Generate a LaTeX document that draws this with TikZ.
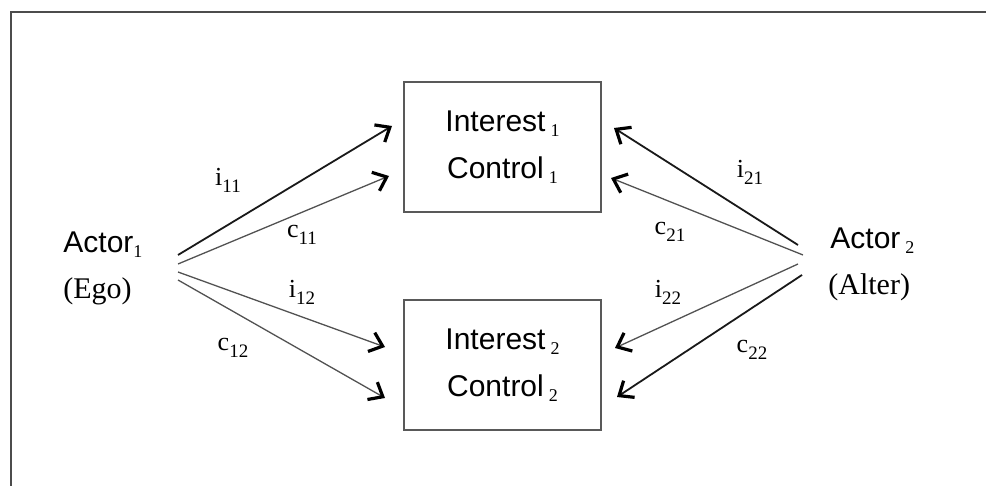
\documentclass[tikz,border=0pt]{standalone}
\usepackage{fontspec}
\setmainfont{Liberation Serif}
\setsansfont{Liberation Sans}
\usetikzlibrary{arrows.meta}

% lowered index, for the big and the small texts
\newcommand\idx[1]{\raisebox{-2.5pt}{\fontsize{9}{9}\selectfont\rmfamily #1}}
\newcommand\lbl[2]{#1\raisebox{-3.5pt}{\fontsize{9.5}{9.5}\selectfont #2}}

\tikzset{
  frame/.style={draw=black!70, line width=1pt},
  box/.style={draw=black!65, line width=0.8pt, minimum width=98.5pt, minimum height=65pt,
    align=center, font=\sffamily\fontsize{15}{23.5}\selectfont},
  actor/.style={anchor=base west, inner sep=0pt, font=\sffamily\fontsize{15}{18}\selectfont},
  role/.style={anchor=base west, inner sep=0pt, font=\rmfamily\fontsize{15}{18}\selectfont},
  lab/.style={inner sep=0pt, font=\rmfamily\fontsize{13}{15}\selectfont},
  arr/.style={-{Straight Barb[length=6pt, width=10pt, line width=1.6pt, color=black]}},
  heavy/.style={arr, line width=0.9pt, draw=black!90},
  light/.style={arr, line width=0.65pt, draw=black!68}
}

\begin{document}
\begin{tikzpicture}[x=0.5pt, y=-0.5pt]
    \useasboundingbox (0,0) rectangle (986,486);
    \draw[frame] (986,12) -- (11,12) -- (11,486);

      % the two boxes
      \node[box] (b1) at (502.5,147) {Interest\,\idx{1}\\Control\,\idx{1}};
      \node[box] (b2) at (502.5,365) {Interest\,\idx{2}\\Control\,\idx{2}};

      % the actors
      \node[actor] (a1) at (63,253) {Actor\idx{1}};
      \node[role] (ego) at (63,299) {(Ego)};
      \node[actor] (a2) at (830,249) {Actor\,\idx{2}};
      \node[role] (alter) at (828,295) {(Alter)};

      % ends of the arrows
      \coordinate (s11) at (178,255);
      \coordinate (s12) at (178,264);
      \coordinate (s13) at (178,272);
      \coordinate (s14) at (178,280);
      \coordinate (s21) at (798,245);
      \coordinate (s22) at (803,255);
      \coordinate (s23) at (798,264);
      \coordinate (s24) at (802,275);

      \coordinate (t11) at (392,126);
      \coordinate (t12) at (389,176);
      \coordinate (t13) at (385,347);
      \coordinate (t14) at (385,398);
      \coordinate (t21) at (614,128);
      \coordinate (t22) at (611,178);
      \coordinate (t23) at (615,348);
      \coordinate (t24) at (617,397);

      \draw[heavy] (s11) -- (t11);
      \draw[light] (s12) -- (t12);
      \draw[light] (s13) -- (t13);
      \draw[light] (s14) -- (t14);
      \draw[heavy] (s21) -- (t21);
      \draw[light] (s22) -- (t22);
      \draw[light] (s23) -- (t23);
      \draw[heavy] (s24) -- (t24);

      % labels
      \node[lab] (li11) at (228,180) {\lbl{i}{11}};
      \node[lab] (lc11) at (302,235) {\lbl{c}{11}};
      \node[lab] (li12) at (302,292) {\lbl{i}{12}};
      \node[lab] (lc12) at (233,348) {\lbl{c}{12}};
      \node[lab] (li21) at (750,172) {\lbl{i}{21}};
      \node[lab] (lc21) at (670,232) {\lbl{c}{21}};
      \node[lab] (li22) at (668,292) {\lbl{i}{22}};
      \node[lab] (lc22) at (752,350) {\lbl{c}{22}};
  \end{tikzpicture}
\end{document}
